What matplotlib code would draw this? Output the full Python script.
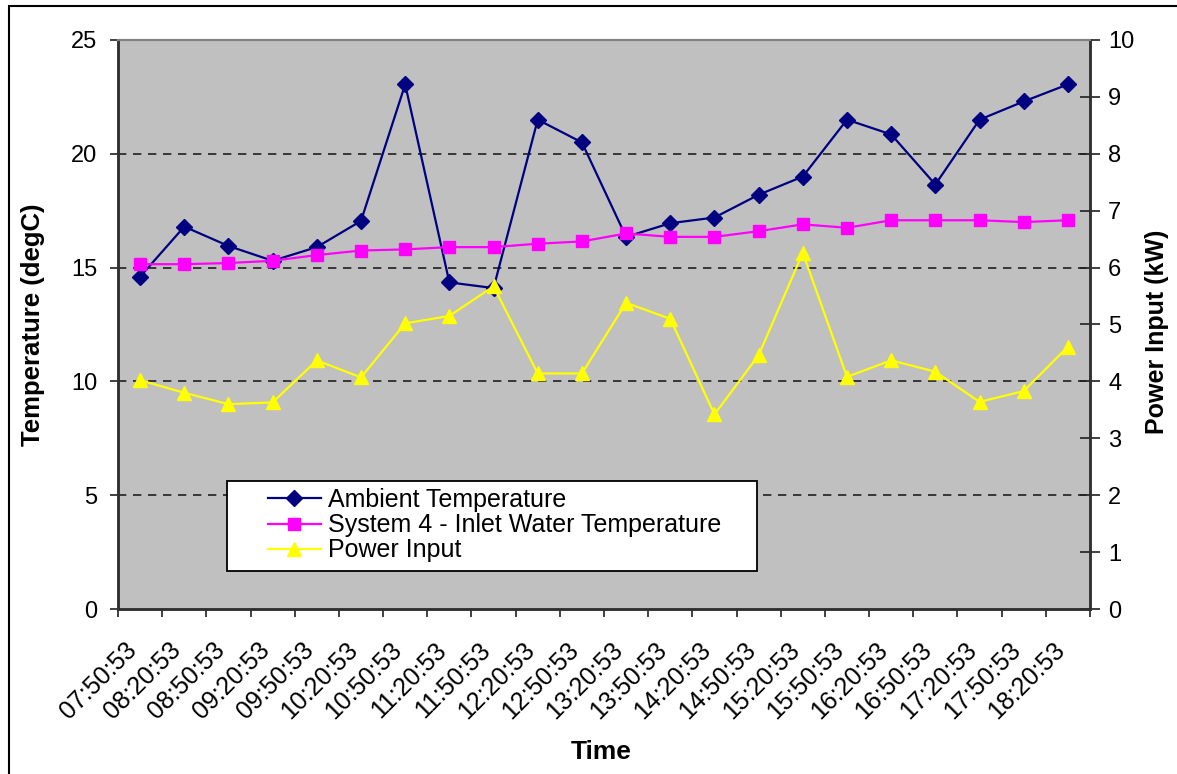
import numpy as np
import matplotlib
matplotlib.use("Agg")
import matplotlib.pyplot as plt
from matplotlib.patches import Rectangle
from matplotlib.lines import Line2D
import matplotlib.transforms as mtransforms

plt.rcParams['font.family'] = ['Liberation Sans', 'DejaVu Sans']

times = ["07:50:53", "08:20:53", "08:50:53", "09:20:53", "09:50:53", "10:20:53",
         "10:50:53", "11:20:53", "11:50:53", "12:20:53", "12:50:53", "13:20:53",
         "13:50:53", "14:20:53", "14:50:53", "15:20:53", "15:50:53", "16:20:53",
         "16:50:53", "17:20:53", "17:50:53", "18:20:53"]

ambient = [14.6, 16.8, 15.95, 15.3, 15.9, 17.05, 23.05, 14.35, 14.1, 21.5, 20.5,
           16.35, 16.95, 17.2, 18.2, 19.0, 21.5, 20.85, 18.65, 21.5, 22.3, 23.05]

inlet = [15.15, 15.15, 15.2, 15.3, 15.55, 15.75, 15.8, 15.9, 15.9, 16.05, 16.15,
         16.5, 16.35, 16.35, 16.6, 16.9, 16.75, 17.08, 17.08, 17.08, 17.0, 17.08]

power = [4.02, 3.8, 3.6, 3.63, 4.37, 4.07, 5.02, 5.15, 5.67, 4.14, 4.14,
         5.38, 5.1, 3.42, 4.46, 6.26, 4.08, 4.37, 4.17, 3.64, 3.83, 4.61]

series_names = ["Ambient Temperature", "System 4 - Inlet Water Temperature", "Power Input"]

W, H = 1177, 774
fig = plt.figure(figsize=(W / 100, H / 100), dpi=100)
fig.patch.set_facecolor('white')

L, R, T, B = 118, 1090, 40, 609
ax = fig.add_axes([L / W, 1 - B / H, (R - L) / W, (B - T) / H])
ax.set_facecolor('#C0C0C0')
ax2 = ax.twinx()

x = np.arange(len(times))
navy = '#000080'
mag = '#FF00FF'
yel = '#FFFF00'

ax.plot(x, ambient, color=navy, lw=1.6, marker='D', ms=8, mfc=navy, mec=navy, zorder=3)
ax.plot(x, inlet, color=mag, lw=1.6, marker='s', ms=9, mfc=mag, mec=mag, zorder=3)
ax2.plot(x, power, color=yel, lw=1.6, marker='^', ms=10, mfc=yel, mec=yel, zorder=3)

ax.set_xlim(-0.5, len(times) - 0.5)
ax.set_ylim(0, 25)
ax2.set_ylim(0, 10)
ax.set_yticks([0, 5, 10, 15, 20, 25])
ax2.set_yticks(range(0, 11))

for g in [5, 10, 15, 20]:
    ax.axhline(g, color='#202020', lw=1.2, ls=(0, (5, 4)), zorder=1)

# x ticks: marks at boundaries, labels at centers
ax.set_xticks(np.arange(-0.5, len(times), 1.0))
ax.set_xticklabels([])
ax.set_xticks(x, minor=True)
ax.set_xticklabels(times, minor=True, rotation=45, ha='right', va='center',
                   rotation_mode='anchor', fontsize=18)
ax.tick_params(axis='x', which='major', direction='out', length=6, width=1.2, color='#202020')
ax.tick_params(axis='x', which='minor', length=0, pad=27)
offset = mtransforms.ScaledTranslation(-7 / 100, 0, fig.dpi_scale_trans)
for lab in ax.get_xticklabels(minor=True):
    lab.set_transform(lab.get_transform() + offset)

ax.tick_params(axis='y', direction='out', length=6, width=1.2, labelsize=17, pad=9, color='#202020')
ax2.tick_params(axis='y', direction='inout', length=14, width=1.2, labelsize=17, pad=6, color='#202020')

for a in (ax, ax2):
    a.spines['top'].set_color('#808080')
    a.spines['top'].set_linewidth(1.5)
    a.spines['left'].set_color('#303030')
    a.spines['left'].set_linewidth(1.8)
    a.spines['right'].set_color('#303030')
    a.spines['right'].set_linewidth(1.8)
    a.spines['bottom'].set_color('#303030')
    a.spines['bottom'].set_linewidth(1.8)

fig.text(33 / W, 1 - 325 / H, "Temperature (degC)", rotation=90, ha='center', va='center',
         fontsize=18.5, fontweight='bold')
fig.text(1157 / W, 1 - 332 / H, "Power Input (kW)", rotation=90, ha='center', va='center',
         fontsize=18, fontweight='bold')
fig.text(601 / W, 1 - 752 / H, "Time", ha='center', va='center', fontsize=19, fontweight='bold')

# legend box
lx0, lx1, ly0, ly1 = 227, 757, 481, 571
box = Rectangle((lx0 / W, 1 - ly1 / H), (lx1 - lx0) / W, (ly1 - ly0) / H,
                transform=fig.transFigure, facecolor='white', edgecolor='black',
                lw=1.3, zorder=10)
ax2.add_patch(box)
box.set_clip_on(False)

handles = [Line2D([], [], color=navy, lw=1.6, marker='D', ms=8),
           Line2D([], [], color=mag, lw=1.6, marker='s', ms=9),
           Line2D([], [], color=yel, lw=1.6, marker='^', ms=10)]
leg = ax2.legend(handles, series_names, loc='upper left',
                 bbox_to_anchor=(268 / W, 1 - 488 / H), bbox_transform=fig.transFigure,
                 frameon=False, fontsize=18, borderpad=0, borderaxespad=0,
                 handlelength=2.1, handletextpad=0.3, labelspacing=0.05)
leg.set_zorder(11)

# outer frame
frame = Rectangle((9 / W, -0.05), 1.2, 1 - 6 / H + 0.05, transform=fig.transFigure,
                  facecolor='none', edgecolor='black', lw=1.5)
fig.patches.append(frame)

fig.savefig('out.png', dpi=100)
